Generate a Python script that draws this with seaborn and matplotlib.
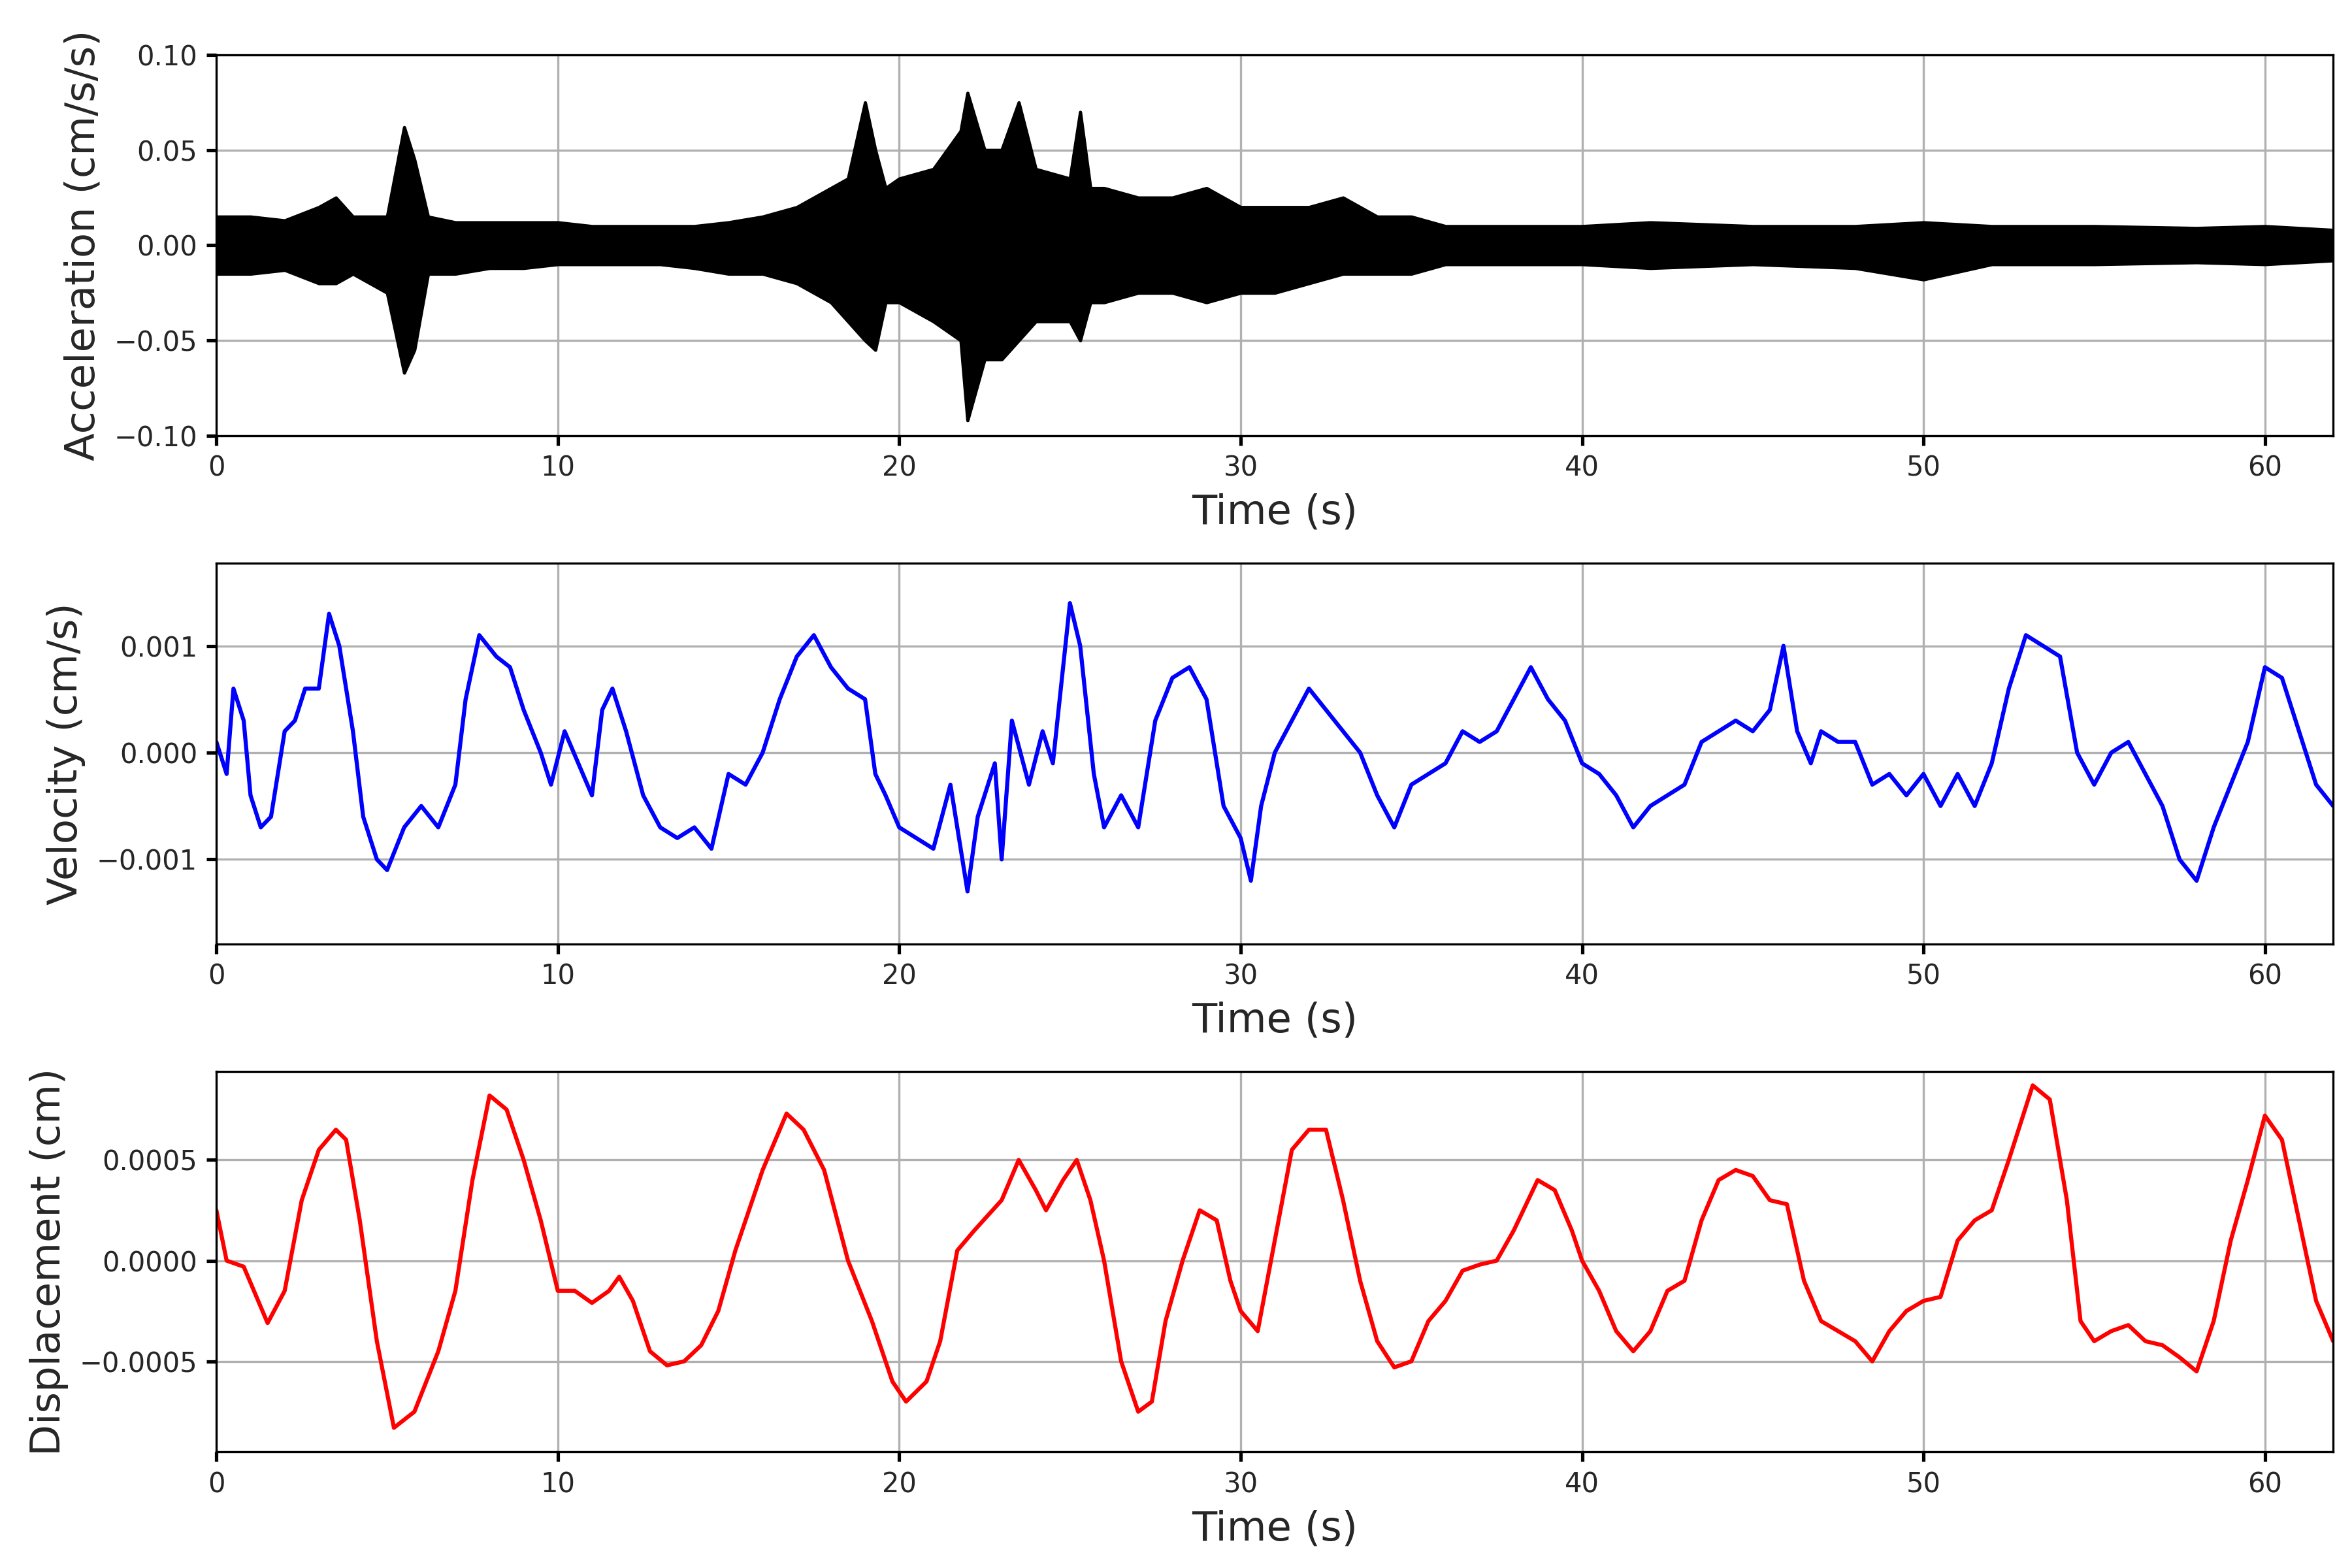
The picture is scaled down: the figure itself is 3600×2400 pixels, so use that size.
import numpy as np
import pandas as pd
import matplotlib
matplotlib.use("Agg")
import matplotlib.pyplot as plt
import seaborn as sns

# Acceleration envelope (cm/s/s)
acc_t = [0, 1, 2, 3, 3.5, 4, 5, 5.5, 5.8, 6.2, 7, 8, 9, 10, 11, 12, 13, 14, 15, 16, 17, 18, 18.5, 19,
         19.3, 19.6, 20, 21, 21.8, 22, 22.5, 23, 23.5, 24, 25, 25.3, 25.6, 26, 27, 28, 29, 30, 31, 32,
         33, 34, 35, 36, 38, 40, 42, 45, 48, 50, 52, 55, 58, 60, 62]
acc_up = [0.015, 0.015, 0.013, 0.02, 0.025, 0.015, 0.015, 0.062, 0.045, 0.015, 0.012, 0.012, 0.012, 0.012,
          0.01, 0.01, 0.01, 0.01, 0.012, 0.015, 0.02, 0.03, 0.035, 0.075, 0.05, 0.03, 0.035, 0.04, 0.06,
          0.08, 0.05, 0.05, 0.075, 0.04, 0.035, 0.07, 0.03, 0.03, 0.025, 0.025, 0.03, 0.02, 0.02, 0.02,
          0.025, 0.015, 0.015, 0.01, 0.01, 0.01, 0.012, 0.01, 0.01, 0.012, 0.01, 0.01, 0.009, 0.01, 0.008]
acc_lo = [-0.015, -0.015, -0.013, -0.02, -0.02, -0.015, -0.025, -0.067, -0.055, -0.015, -0.015, -0.012,
          -0.012, -0.01, -0.01, -0.01, -0.01, -0.012, -0.015, -0.015, -0.02, -0.03, -0.04, -0.05, -0.055,
          -0.03, -0.03, -0.04, -0.05, -0.092, -0.06, -0.06, -0.05, -0.04, -0.04, -0.05, -0.03, -0.03,
          -0.025, -0.025, -0.03, -0.025, -0.025, -0.02, -0.015, -0.015, -0.015, -0.01, -0.01, -0.01,
          -0.012, -0.01, -0.012, -0.018, -0.01, -0.01, -0.009, -0.01, -0.008]

# Velocity (cm/s)
vel_t = [0, 0.3, 0.5, 0.8, 1, 1.3, 1.6, 2, 2.3, 2.6, 3, 3.3, 3.6, 4, 4.3, 4.7, 5, 5.5, 6, 6.5, 7, 7.3, 7.7,
         8.2, 8.6, 9, 9.5, 9.8, 10.2, 10.6, 11, 11.3, 11.6, 12, 12.5, 13, 13.5, 14, 14.5, 15, 15.5, 16,
         16.5, 17, 17.5, 18, 18.5, 19, 19.3, 19.6, 20, 20.5, 21, 21.5, 22, 22.3, 22.8, 23, 23.3, 23.8,
         24.2, 24.5, 25, 25.3, 25.7, 26, 26.5, 27, 27.5, 28, 28.5, 29, 29.5, 30, 30.3, 30.6, 31, 31.5,
         32, 32.5, 33, 33.5, 34, 34.5, 35, 35.5, 36, 36.5, 37, 37.5, 38, 38.5, 39, 39.5, 40, 40.5, 41,
         41.5, 42, 42.5, 43, 43.5, 44, 44.5, 45, 45.5, 45.9, 46.3, 46.7, 47, 47.5, 48, 48.5, 49, 49.5,
         50, 50.5, 51, 51.5, 52, 52.5, 53, 53.5, 54, 54.5, 55, 55.5, 56, 56.5, 57, 57.5, 58, 58.5, 59,
         59.5, 60, 60.5, 61, 61.5, 62]
vel_v = [1, -2, 6, 3, -4, -7, -6, 2, 3, 6, 6, 13, 10, 2, -6, -10, -11, -7, -5, -7, -3, 5, 11, 9, 8, 4, 0,
         -3, 2, -1, -4, 4, 6, 2, -4, -7, -8, -7, -9, -2, -3, 0, 5, 9, 11, 8, 6, 5, -2, -4, -7, -8, -9,
         -3, -13, -6, -1, -10, 3, -3, 2, -1, 14, 10, -2, -7, -4, -7, 3, 7, 8, 5, -5, -8, -12, -5, 0, 3,
         6, 4, 2, 0, -4, -7, -3, -2, -1, 2, 1, 2, 5, 8, 5, 3, -1, -2, -4, -7, -5, -4, -3, 1, 2, 3, 2, 4,
         10, 2, -1, 2, 1, 1, -3, -2, -4, -2, -5, -2, -5, -1, 6, 11, 10, 9, 0, -3, 0, 1, -2, -5, -10, -12,
         -7, -3, 1, 8, 7, 2, -3, -5]
vel_v = [v * 1e-4 for v in vel_v]

# Displacement (cm)
dis_t = [0, 0.3, 0.8, 1.5, 2, 2.5, 3, 3.5, 3.8, 4.2, 4.7, 5.2, 5.8, 6.5, 7, 7.5, 8, 8.5, 9, 9.5, 10, 10.5,
         11, 11.5, 11.8, 12.2, 12.7, 13.2, 13.7, 14.2, 14.7, 15.2, 16, 16.7, 17.2, 17.8, 18.5, 19.2,
         19.8, 20.2, 20.8, 21.2, 21.7, 22.2, 23, 23.5, 24, 24.3, 24.8, 25.2, 25.6, 26, 26.5, 27, 27.4,
         27.8, 28.3, 28.8, 29.3, 29.7, 30, 30.5, 31, 31.5, 32, 32.5, 33, 33.5, 34, 34.5, 35, 35.5, 36,
         36.5, 37, 37.5, 38, 38.7, 39.2, 39.7, 40, 40.5, 41, 41.5, 42, 42.5, 43, 43.5, 44, 44.5, 45,
         45.5, 46, 46.5, 47, 47.5, 48, 48.5, 49, 49.5, 50, 50.5, 51, 51.5, 52, 52.5, 53.2, 53.7, 54.2,
         54.6, 55, 55.5, 56, 56.5, 57, 57.5, 58, 58.5, 59, 59.5, 60, 60.5, 61, 61.5, 62]
dis_v = [2.5, 0, -0.3, -3.1, -1.5, 3, 5.5, 6.5, 6, 2, -4, -8.3, -7.5, -4.5, -1.5, 4, 8.2, 7.5, 5, 2, -1.5,
         -1.5, -2.1, -1.5, -0.8, -2, -4.5, -5.2, -5, -4.2, -2.5, 0.5, 4.5, 7.3, 6.5, 4.5, 0, -3, -6, -7,
         -6, -4, 0.5, 1.5, 3, 5, 3.5, 2.5, 4, 5, 3, 0, -5, -7.5, -7, -3, 0, 2.5, 2, -1, -2.5, -3.5, 1,
         5.5, 6.5, 6.5, 3, -1, -4, -5.3, -5, -3, -2, -0.5, -0.2, 0, 1.5, 4, 3.5, 1.5, 0, -1.5, -3.5,
         -4.5, -3.5, -1.5, -1, 2, 4, 4.5, 4.2, 3, 2.8, -1, -3, -3.5, -4, -5, -3.5, -2.5, -2, -1.8, 1, 2,
         2.5, 5, 8.7, 8, 3, -3, -4, -3.5, -3.2, -4, -4.2, -4.8, -5.5, -3, 1, 4, 7.2, 6, 2, -2, -4]
dis_v = [v * 1e-4 for v in dis_v]

sns.set_theme(style="ticks")
plt.rcParams['font.family'] = ['DejaVu Sans']
fig, axes = plt.subplots(3, 1, figsize=(12, 8), dpi=300)

ax = axes[0]
ax.fill_between(acc_t, acc_lo, acc_up, color="black", lw=1.2)
sns.lineplot(x=acc_t, y=[0] * len(acc_t), ax=ax, color="black", lw=1)
ax.set_ylim(-0.1, 0.1)
ax.set_ylabel("Acceleration (cm/s/s)", fontsize=15)

sns.lineplot(x=vel_t, y=vel_v, ax=axes[1], color="blue", lw=1.5)
axes[1].set_ylim(-0.00179, 0.001775)
axes[1].set_yticks([-0.001, 0, 0.001])
axes[1].set_ylabel("Velocity (cm/s)", fontsize=15)

sns.lineplot(x=dis_t, y=dis_v, ax=axes[2], color="red", lw=1.5)
axes[2].set_ylim(-0.00095, 0.00094)
axes[2].set_yticks([-0.0005, 0, 0.0005])
axes[2].set_ylabel("Displacement (cm)", fontsize=15)

for a in axes:
    a.set_xlim(0, 62)
    a.set_xlabel("Time (s)", fontsize=15)
    a.grid(True, color="#b0b0b0", lw=0.8)
    a.tick_params(labelsize=10, direction="out", length=3.5, color="black")
    for s in a.spines.values():
        s.set_color("black"); s.set_linewidth(0.8)

fig.subplots_adjust(left=0.092, right=0.992, top=0.965, bottom=0.074, hspace=0.335)
fig.savefig("out.png", dpi=300)
